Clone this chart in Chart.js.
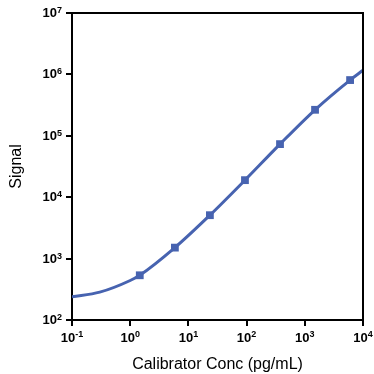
<!DOCTYPE html>
<html>
<head>
<meta charset="utf-8">
<script src="https://cdn.jsdelivr.net/npm/chart.js@4.4.1/dist/chart.umd.min.js"></script>
<style>
  body { margin: 0; background: #fff; }
  #wrap { width: 374px; height: 374px; }
</style>
</head>
<body>
<div id="wrap"><canvas id="myChart"></canvas></div>
<script>
// calibrator points (4-fold dilution)
var calConc = [1.46, 5.86, 23.4, 93.75, 375, 1500, 6000];
var calSignal = [535, 1509, 5093, 18950, 73200, 265200, 808500];

// fitted curve
var curveConc = [0.1, 0.3, 1, 1.46, 5.86, 23.4, 93.75, 375, 1500, 6000, 10000];
var curveSignal = [239, 284, 440, 535, 1509, 5093, 18950, 73200, 265200, 808500, 1170000];

// decade ticks and their exponents
var xTicks = [0.1, 1, 10, 100, 1000, 10000];
var xExp = ['-1', '0', '1', '2', '3', '4'];
var yTicks = [100, 1000, 10000, 100000, 1000000, 10000000];
var yExp = ['2', '3', '4', '5', '6', '7'];

var blue = '#4763b0';
var fam = "'Liberation Sans', Arial, sans-serif";

function toXY(xs, ys) {
  return xs.map(function(x, i) { return {x: x, y: ys[i]}; });
}

// draws the 10^n labels and the top/right frame
var expLabels = {
  id: 'expLabels',
  afterDraw: function(chart) {
    var ctx = chart.ctx;
    var a = chart.chartArea;
    var xs = chart.scales.x, ys = chart.scales.y;
    ctx.save();
    ctx.strokeStyle = '#000';
    ctx.lineWidth = 2;
    ctx.beginPath();
    ctx.moveTo(a.left, a.top);
    ctx.lineTo(a.right, a.top);
    ctx.lineTo(a.right, a.bottom);
    ctx.stroke();

    ctx.fillStyle = '#000';
    ctx.textBaseline = 'alphabetic';
    var big = 'bold 13px ' + fam, small = 'bold 9px ' + fam;

    xTicks.forEach(function(v, i) {
      var px = xs.getPixelForValue(v);
      ctx.font = big; var w1 = ctx.measureText('10').width;
      ctx.font = small; var w2 = ctx.measureText(xExp[i]).width;
      var x0 = px - (w1 + w2) / 2;
      ctx.textAlign = 'left';
      ctx.font = big; ctx.fillText('10', x0, a.bottom + 22);
      ctx.font = small; ctx.fillText(xExp[i], x0 + w1, a.bottom + 17);
    });

    yTicks.forEach(function(v, i) {
      var py = ys.getPixelForValue(v);
      var right = a.left - 10;
      ctx.font = small; var w2 = ctx.measureText(yExp[i]).width;
      ctx.font = big; var w1 = ctx.measureText('10').width;
      ctx.textAlign = 'left';
      ctx.font = big; ctx.fillText('10', right - w2 - w1, py + 4);
      ctx.font = small; ctx.fillText(yExp[i], right - w2, py);
    });
    ctx.restore();
  }
};

var ctx = document.getElementById('myChart');
var myChart = new Chart(ctx, {
  type: 'scatter',
  data: {
    datasets: [{
      label: 'Calibrators',
      data: toXY(calConc, calSignal),
      showLine: false,
      pointStyle: 'rect',
      pointRadius: 5.5,
      pointBorderWidth: 0,
      backgroundColor: blue,
      borderColor: blue,
      order: 0
    }, {
      label: 'Fit',
      data: toXY(curveConc, curveSignal),
      showLine: true,
      pointRadius: 0,
      borderColor: blue,
      borderWidth: 3,
      cubicInterpolationMode: 'monotone',
      order: 1
    }]
  },
  options: {
    responsive: true,
    maintainAspectRatio: false,
    animation: false,
    layout: { padding: { top: 13, right: 11, left: 0, bottom: 0 } },
    plugins: { legend: { display: false }, tooltip: { enabled: false } },
    scales: {
      x: {
        type: 'logarithmic',
        min: 0.1,
        max: 10000,
        afterBuildTicks: function(s) { s.ticks = xTicks.map(function(v) { return {value: v}; }); },
        ticks: { display: false },
        grid: { drawOnChartArea: false, drawTicks: true, tickLength: 6, color: '#000', lineWidth: 2 },
        border: { color: '#000', width: 2 },
        title: {
          display: true,
          text: 'Calibrator Conc (pg/mL)',
          color: '#000',
          font: { family: fam, size: 16 },
          padding: { top: 28.8, bottom: 0 }
        }
      },
      y: {
        type: 'logarithmic',
        min: 100,
        max: 10000000,
        afterBuildTicks: function(s) { s.ticks = yTicks.map(function(v) { return {value: v}; }); },
        ticks: { display: false },
        grid: { drawOnChartArea: false, drawTicks: true, tickLength: 6, color: '#000', lineWidth: 2 },
        border: { color: '#000', width: 2 },
        title: {
          display: true,
          text: 'Signal',
          color: '#000',
          font: { family: fam, size: 16 },
          padding: { top: 7.4, bottom: 39.4 }
        }
      }
    }
  },
  plugins: [expLabels]
});
</script>
</body>
</html>
